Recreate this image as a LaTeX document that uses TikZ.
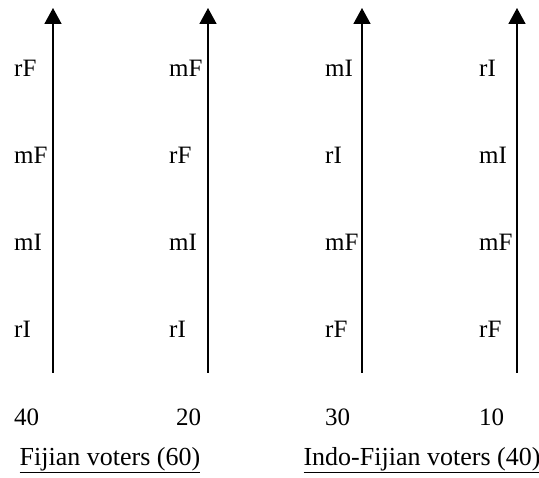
\documentclass[tikz,border=0pt]{standalone}
\usepackage{fontspec}
\setmainfont{Liberation Serif}
\usetikzlibrary{arrows.meta}
\begin{document}
\begin{tikzpicture}[x=1pt,y=-1pt,
  axis/.style={line width=1.6pt,-{Triangle[width=17pt,length=16pt]}},
  pref/.style={anchor=west,inner sep=0pt,font=\fontsize{25}{29}\selectfont},
  count/.style={anchor=west,inner sep=0pt,font=\fontsize{25}{29}\selectfont},
  group/.style={anchor=center,inner sep=0pt,font=\fontsize{26}{30}\selectfont}]
\useasboundingbox (0,0) rectangle (539,478);
% vertical preference axes
\foreach \n/\x in {a/53,b/208,c/362,d/517}{
  \coordinate (\n0) at (\x,373);
  \coordinate (\n1) at (\x,8);
  \draw[axis] (\n0) -- (\n1);
}
% preference orderings, top to bottom
\foreach \n/\x/\p/\q/\r/\s in {a/14/rF/mF/mI/rI, b/169/mF/rF/mI/rI, c/325/mI/rI/mF/rF, d/479/rI/mI/mF/rF}{
  \node[pref] (\n p1) at (\x,68) {\p};
  \node[pref] (\n p2) at (\x,155) {\q};
  \node[pref] (\n p3) at (\x,242) {\r};
  \node[pref] (\n p4) at (\x,329) {\s};
}
% voter counts
\node[count] (na) at (14,417) {40};
\node[count] (nb) at (176,417) {20};
\node[count] (nc) at (325,417) {30};
\node[count] (nd) at (479,417) {10};
% group captions
\node[group] (g1) at (110,460) {\underline{Fijian voters (60)}};
\node[group] (g2) at (422,460) {\underline{Indo-Fijian voters (40)}};
\end{tikzpicture}
\end{document}
